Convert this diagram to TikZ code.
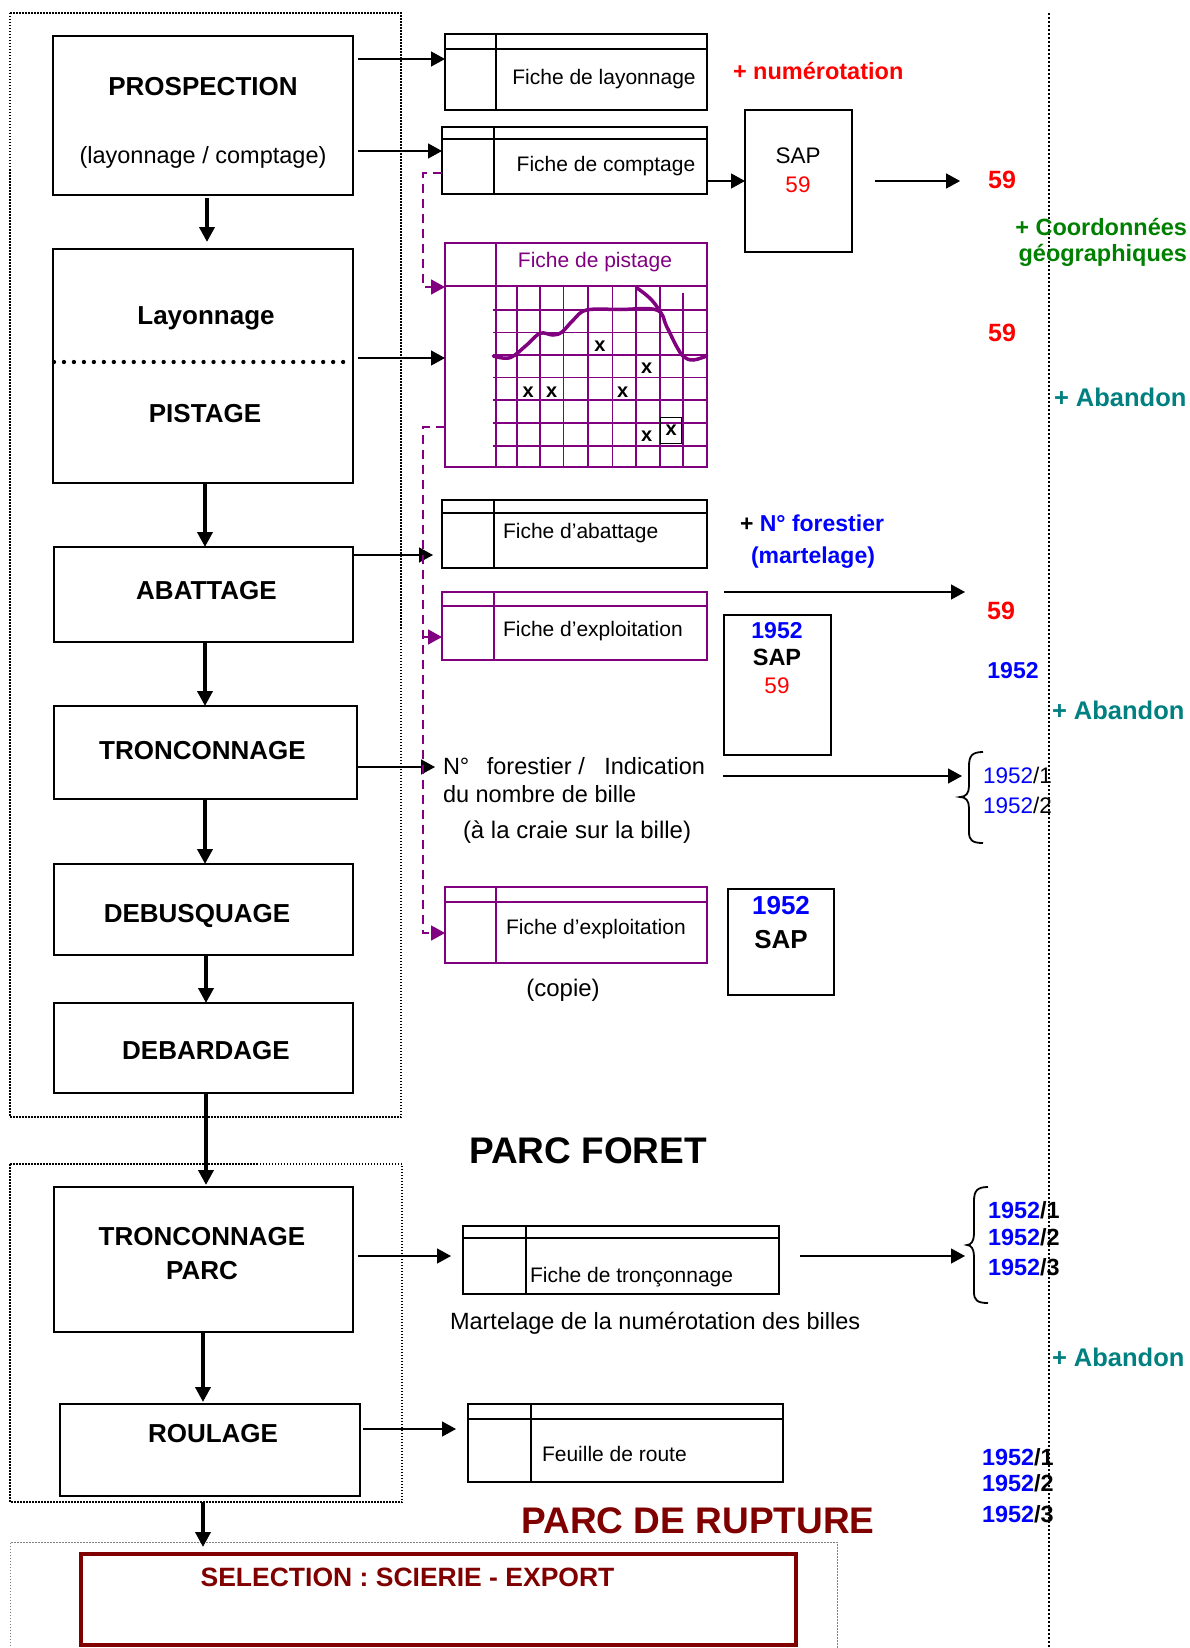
\documentclass[tikz,border=0pt]{standalone}
\usepackage{fontspec}
\setmainfont{Liberation Sans}
\usetikzlibrary{arrows.meta}
\definecolor{pur}{HTML}{800080}
\definecolor{rd}{HTML}{FF0000}
\definecolor{grn}{HTML}{008000}
\definecolor{tl}{HTML}{008080}
\definecolor{bl}{HTML}{0000FF}
\definecolor{drd}{HTML}{800000}
\newcommand\fs[2]{\fontsize{#1}{#2}\selectfont}
\newcommand\fichelines[4]{%
  \draw[#4, line width=1.8pt] ([yshift=-#2pt]#1.north west) -- ([yshift=-#2pt]#1.north east);
  \draw[#4, line width=1.8pt] ([xshift=#3pt]#1.north west) -- ([xshift=#3pt]#1.south west);}
\tikzset{
 bigbox/.style={draw, line width=2.6pt, inner sep=0pt, outer sep=0pt, anchor=north west},
 fiche/.style={draw, line width=1.8pt, inner sep=0pt, outer sep=0pt, anchor=north west},
 sapbox/.style={draw, line width=2pt, inner sep=0pt, outer sep=0pt, anchor=north west},
 lbl/.style={inner sep=0pt, outer sep=0pt, text depth=0pt},
 R/.style={lbl, font=\fs{#1}{#1}, /utils/exec={\pgfmathsetmacro\mytxh{#1*0.716}}, text height=\mytxh pt},
 B/.style={lbl, font=\bfseries\fs{#1}{#1}, /utils/exec={\pgfmathsetmacro\mytxh{#1*0.716}}, text height=\mytxh pt},
 boxlbl/.style={B=26},
 fichelbl/.style={R=21},
 midtxt/.style={R=23.5},
 rtxt/.style={R=22.5},
 rbold/.style={B=23.4},
 thickarr/.style={line width=4pt, -{Triangle[length=15pt,width=15pt]}},
 thinarr/.style={line width=1.3pt, -{Triangle[length=14pt,width=15pt]}},
 pdash/.style={pur, line width=1.7pt, dash pattern=on 9pt off 6pt},
 pdarr/.style={pdash, -{Triangle[length=14pt,width=15pt]}},
 outerdot/.style={line width=1.5pt, dash pattern=on 1.5pt off 1.5pt},
 gridl/.style={pur, line width=1.6pt},
 xm/.style={inner sep=0pt, text height=10.4pt, text depth=0pt, font=\bfseries\fs{20}{24}},
 bracep/.style={line width=1.8pt},
}
\begin{document}
\begin{tikzpicture}[x=1pt,y=-1pt]
\fill[white] (0,0) rectangle (1190,1648);
\useasboundingbox (0,0) rectangle (1190,1648);

% dotted frames
\draw[outerdot] (10,13) rectangle (401,1117);
\draw[outerdot] (10,1164) rectangle (402,1502);
\draw[line width=1pt, gray, dash pattern=on 1.5pt off 1.5pt] (10,1652) -- (10,1542) -- (837,1542) -- (837,1652);
\draw[line width=2pt, dash pattern=on 2pt off 2pt] (1049,13) -- (1049,1652);

% main process boxes
\node[bigbox, minimum width=300pt, minimum height=159pt] (pros) at (53,36) {};
\node[bigbox, minimum width=300pt, minimum height=234pt] (layp) at (53,249) {};
\node[bigbox, minimum width=299pt, minimum height=95pt] (abatt) at (54,547) {};
\node[bigbox, minimum width=303pt, minimum height=93pt] (tronco) at (54,706) {};
\node[bigbox, minimum width=299pt, minimum height=91pt] (debus) at (54,864) {};
\node[bigbox, minimum width=299pt, minimum height=90pt] (debar) at (54,1003) {};
\node[bigbox, minimum width=299pt, minimum height=145pt] (troncp) at (54,1187) {};
\node[bigbox, minimum width=300pt, minimum height=92pt] (roul) at (60,1404) {};
\node[draw=drd, line width=3.6pt, inner sep=0pt, outer sep=0pt, anchor=north west, minimum width=715pt, minimum height=91pt] (sel) at (81,1554) {};

\node[boxlbl] (prosA) at (203,86) {PROSPECTION};
\node[midtxt] (prosB) at (203,155) {(layonnage / comptage)};
\node[boxlbl] (laypA) at (206,315) {Layonnage};
\draw[line width=4.3pt, line cap=round, dash pattern=on 0pt off 9.97pt] (54,362) -- (344,362);
\node[boxlbl] (laypB) at (205,413) {PISTAGE};
\node[boxlbl] (abattT) at (206.5,590) {ABATTAGE};
\node[boxlbl] (troncoT) at (202.5,750) {TRONCONNAGE};
\node[boxlbl] (debusT) at (197,913) {DEBUSQUAGE};
\node[boxlbl] (debarT) at (206,1050) {DEBARDAGE};
\node[boxlbl] (troncpA) at (202,1236) {TRONCONNAGE};
\node[boxlbl] (troncpB) at (202,1270) {PARC};
\node[boxlbl] (roulT) at (213,1433) {ROULAGE};
\node[B=26.5, text=drd] (selT) at (407.5,1576.5) {SELECTION : SCIERIE - EXPORT};

% thick vertical arrows
\draw[thickarr] ([xshift=4pt,yshift=-3pt]pros.south) -- ([xshift=4pt,yshift=7pt]layp.north);
\draw[thickarr] ([xshift=2pt]layp.south) -- ([xshift=1.5pt]abatt.north);
\draw[thickarr] ([xshift=1.5pt]abatt.south) -- ([xshift=-0.5pt]tronco.north);
\draw[thickarr] ([xshift=-0.5pt]tronco.south) -- ([xshift=1.5pt]debus.north);
\draw[thickarr] ([xshift=2.5pt]debus.south) -- ([xshift=2.5pt]debar.north);
\draw[thickarr] ([xshift=2.5pt]debar.south) -- ([xshift=2.5pt,yshift=2pt]troncp.north);
\draw[thickarr] ([xshift=-0.5pt]troncp.south) -- ([xshift=-7pt,yshift=2pt]roul.north);
\draw[thickarr] ([xshift=-7pt,yshift=-6pt]roul.south) -- ([xshift=-235.5pt,yshift=7pt]sel.north);

% fiche boxes
\node[fiche, minimum width=262pt, minimum height=76pt] (lay) at (445,34) {};
\fichelines{lay}{15}{51}{black}
\node[fichelbl] (layT) at (604,77) {Fiche de layonnage};
\node[fiche, minimum width=265pt, minimum height=67pt] (comp) at (442,127) {};
\fichelines{comp}{12}{52}{black}
\node[fichelbl] (compT) at (606,164) {Fiche de comptage};

\node[fiche, draw=pur, minimum width=262pt, minimum height=224pt] (pist) at (445,243) {};
\fichelines{pist}{43}{51}{pur}
\node[fichelbl, text=pur] (pistT) at (595,260) {Fiche de pistage};
\foreach \x in {516.7,540,563.3,587.7,612.3,636,660} \draw[gridl] (\x,286) -- (\x,467);
\draw[gridl] (682.7,293) -- (682.7,467);
\foreach \y in {310,332.3,355,377.3,400,422.7,445.7} \draw[gridl] (493,\y) -- (707,\y);
\draw[pur, line width=3.5pt, line cap=round] plot[smooth, tension=0.6] coordinates {(493.3,356) (510,357.7) (526.7,345) (540,333.3) (553,335) (562,332) (573.3,320) (586.7,310) (620,309.5) (656.7,310) (666.7,326.7) (676.7,346.7) (684,357) (693.3,360) (706.7,356)};
\draw[pur, line width=3.5pt] (636,287.3) .. controls (647,295) and (653,300) .. (658.3,309);
\node[xm] (x1) at (600,346) {x};
\node[xm] (x2) at (646.7,368.3) {x};
\node[xm] (x3) at (528.3,392.7) {x};
\node[xm] (x4) at (551.7,392.7) {x};
\node[xm] (x5) at (622.7,392.7) {x};
\node[xm] (x6) at (646.7,436) {x};
\node[xm, draw, line width=1.5pt, minimum width=21pt, minimum height=26pt] (x7) at (671.2,430.3) {x};

\node[fiche, minimum width=265pt, minimum height=68pt] (abat) at (442,500) {};
\fichelines{abat}{13}{52}{black}
\node[fichelbl, anchor=west] (abatT) at (503,530.5) {Fiche d’abattage};
\node[fiche, draw=pur, minimum width=265pt, minimum height=68pt] (expl) at (442,592) {};
\fichelines{expl}{14}{52}{pur}
\node[fichelbl, anchor=west] (explT) at (503,629) {Fiche d’exploitation};
\node[fiche, draw=pur, minimum width=262pt, minimum height=76pt] (copie) at (445,887) {};
\fichelines{copie}{15}{51}{pur}
\node[fichelbl, anchor=west] (copieT) at (506,926.5) {Fiche d’exploitation};
\node[R=24] (copieL) at (563,988) {(copie)};
\node[fiche, minimum width=316pt, minimum height=68pt] (tronc) at (463,1226) {};
\fichelines{tronc}{12}{63}{black}
\node[fichelbl, anchor=west] (troncT) at (530,1275) {Fiche de tronçonnage};
\node[fiche, minimum width=315pt, minimum height=78pt] (route) at (468,1404) {};
\fichelines{route}{15}{63}{black}
\node[fichelbl, anchor=west] (routeT) at (542,1454) {Feuille de route};

% SAP boxes
\node[sapbox, minimum width=107pt, minimum height=142pt] (sap1) at (745,110) {};
\node[R=22.5] (sap1a) at (798,155.5) {SAP};
\node[R=22.5, text=rd] (sap1b) at (798,184.5) {59};
\node[sapbox, minimum width=107pt, minimum height=140pt] (sap2) at (724,615) {};
\node[B=23, text=bl] (sap2a) at (777,630) {1952};
\node[B=23.5] (sap2b) at (777,657.5) {SAP};
\node[R=22.5, text=rd] (sap2c) at (777,685) {59};
\node[sapbox, minimum width=106pt, minimum height=106pt] (sap3) at (728,889) {};
\node[B=26, text=bl] (sap3a) at (781,905) {1952};
\node[B=26] (sap3b) at (781,939) {SAP};

% middle texts
\node[midtxt, anchor=west] (nfA) at (443,766) {N°\hspace{11pt} forestier /\hspace{13pt} Indication};
\node[midtxt, anchor=west] (nfB) at (443,794) {du nombre de bille};
\node[R=24, anchor=west] (nfC) at (463,830) {(à la craie sur la bille)};
\node[B=37] (pforet) at (588,1150.5) {PARC FORET};
\node[midtxt, anchor=west] (martT) at (450,1321) {Martelage de la numérotation des billes};
\node[B=37, text=drd] (prupt) at (698,1520) {PARC DE RUPTURE};

% right column
\node[B=23.5, anchor=west, text=rd] (num) at (733,71) {+ numérotation};
\node[B=25, text=rd] (r59a) at (1002,179.5) {59};
\node[B=23.5, anchor=east, text=grn] (coordA) at (1187,227.5) {+ Coordonnées};
\node[B=23.5, anchor=east, text=grn] (coordB) at (1187,253) {géographiques};
\node[B=25, text=rd] (r59b) at (1002,332.5) {59};
\node[B=25.5, anchor=west, text=tl] (ab1) at (1054,397) {+ Abandon};
\node[B=23, anchor=west] (nfo) at (740,523.5) {+ \textcolor{bl}{N° forestier}};
\node[B=23, anchor=west, text=bl] (mart) at (751,555) {(martelage)};
\node[B=25, text=rd] (r59c) at (1001,611) {59};
\node[B=23, text=bl] (r1952) at (1013,670) {1952};
\node[B=25.5, anchor=west, text=tl] (ab2) at (1052,710) {+ Abandon};
\node[rtxt, anchor=west] (b1a) at (983,775) {\textcolor{bl}{1952}/1};
\node[rtxt, anchor=west] (b1b) at (983,805.5) {\textcolor{bl}{1952}/2};
\node[rbold, anchor=west] (b2a) at (988,1210.5) {\textcolor{bl}{1952}/1};
\node[rbold, anchor=west] (b2b) at (988,1237.5) {\textcolor{bl}{1952}/2};
\node[rbold, anchor=west] (b2c) at (988,1267) {\textcolor{bl}{1952}/3};
\node[B=25.5, anchor=west, text=tl] (ab3) at (1052,1357) {+ Abandon};
\node[rbold, anchor=west] (b3a) at (982,1457) {\textcolor{bl}{1952}/1};
\node[rbold, anchor=west] (b3b) at (982,1483.5) {\textcolor{bl}{1952}/2};
\node[rbold, anchor=west] (b3c) at (982,1514.5) {\textcolor{bl}{1952}/3};

% braces
\draw[bracep] (983,752) .. controls (972,752) and (969,756) .. (969,766) -- (969,786) .. controls (969,793) and (966,797) .. (960,797) .. controls (966,797) and (969,801) .. (969,808) -- (969,832) .. controls (969,840) and (972,843) .. (983,843);
\draw[bracep] (988,1187) .. controls (977,1187) and (974,1191) .. (974,1201) -- (974,1234) .. controls (974,1241) and (971,1245) .. (967,1245) .. controls (971,1245) and (974,1249) .. (974,1256) -- (974,1292) .. controls (974,1300) and (977,1303) .. (988,1303);

% thin arrows
\coordinate (a1) at ([shift={(5,23)}]pros.north east);
\draw[thinarr] (a1) -- (a1 -| lay.west);
\coordinate (a2) at ([shift={(5,115)}]pros.north east);
\draw[thinarr] (a2) -- (a2 -| comp.west);
\coordinate (a3) at ([shift={(5,109)}]layp.north east);
\draw[thinarr] (a3) -- (a3 -| pist.west);
\draw[thinarr] (comp.east |- sap1.west) -- (sap1.west);
\draw[thinarr, shorten <=23pt, shorten >=28pt] (sap1.east) -- (sap1.east -| r59a.west);
\coordinate (a5) at ([shift={(1,8)}]abatt.north east);
\draw[thinarr, shorten >=9pt] (a5) -- (a5 -| abat.west);
\coordinate (f1s) at (724,592);
\coordinate (f1e) at (965,592);
\draw[thinarr] (f1s) -- (f1e);
\coordinate (a6) at ([shift={(0,61)}]tronco.north east);
\draw[thinarr, shorten >=8pt] (a6) -- (a6 -| nfA.west);
\coordinate (f2s) at (723,776);
\coordinate (f2e) at (962,776);
\draw[thinarr] (f2s) -- (f2e);
\coordinate (a7) at ([shift={(5,69)}]troncp.north east);
\draw[thinarr, shorten >=12pt] (a7) -- (a7 -| tronc.west);
\coordinate (a8) at ([shift={(21,30)}]tronc.north east);
\coordinate (f3e) at (965,1256);
\draw[thinarr] (a8) -- (f3e);
\coordinate (a9) at ([shift={(3,25)}]roul.north east);
\draw[thinarr, shorten >=12pt] (a9) -- (a9 -| route.west);

% purple dashed links
\coordinate (d1) at ([shift={(0,-21)}]comp.south west);
\coordinate (d2) at ([shift={(0,44)}]pist.north west);
\draw[pdarr] (d1) -- ++(-19,0) |- (d2);
\coordinate (d3) at ([shift={(0,-40)}]pist.south west);
\coordinate (d4) at ([shift={(0,46)}]copie.north west);
\draw[pdarr] (d3) -- ++(-22,0) |- (d4);
\coordinate (d5) at ([shift={(0,45)}]expl.north west);
\coordinate (dv) at (423,0);
\draw[pdarr] (d5 -| dv) -- (d5);
\end{tikzpicture}
\end{document}
